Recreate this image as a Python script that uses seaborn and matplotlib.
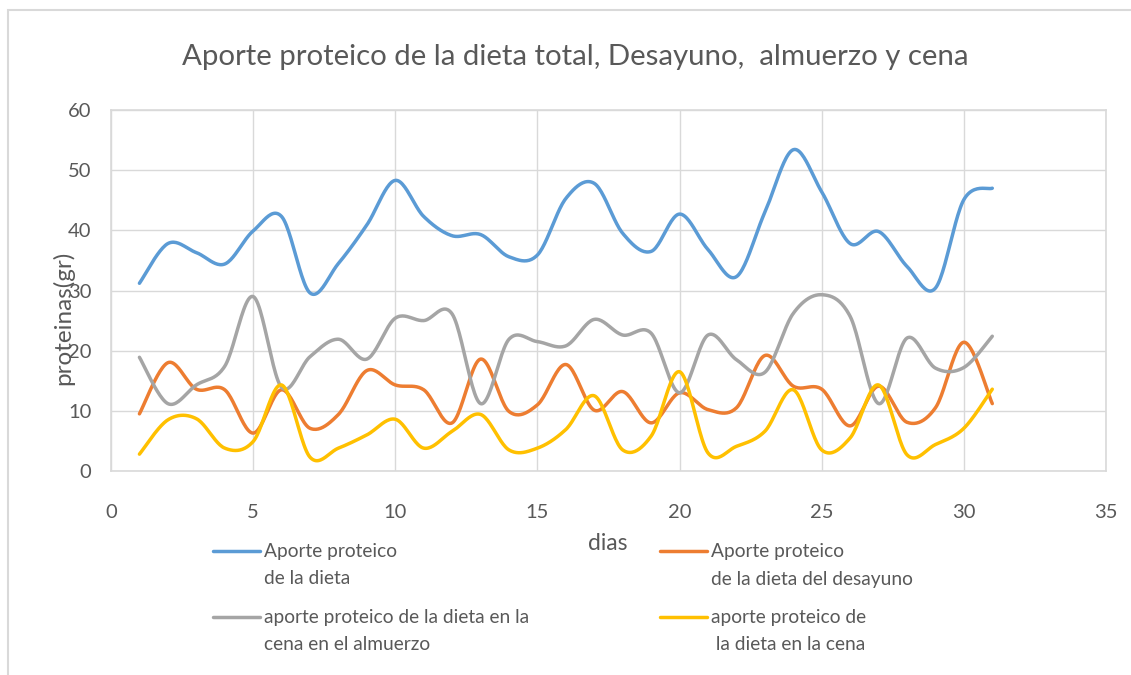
import numpy as np
import pandas as pd
import matplotlib
matplotlib.use("Agg")
import matplotlib.pyplot as plt
import seaborn as sns
from matplotlib.lines import Line2D
from matplotlib.patches import Rectangle

# ---------------- data ----------------
dias = list(range(1, 32))
aporte_total = [31.2, 37.8, 36.3, 34.4, 39.9, 42.3, 29.6, 34.5, 40.9, 48.3,
                42.3, 39.1, 39.3, 35.6, 35.9, 45.3, 47.8, 39.5, 36.5, 42.7,
                36.8, 32.3, 43.0, 53.4, 46.4, 37.8, 39.8, 34.0, 30.4, 45.1, 47.0]
aporte_desayuno = [9.5, 18.0, 13.6, 13.5, 6.3, 13.5, 7.1, 9.4, 16.7, 14.3,
                   13.5, 8.0, 18.6, 9.9, 11.0, 17.7, 10.1, 13.2, 8.0, 13.0,
                   10.2, 10.5, 19.2, 14.1, 13.6, 7.5, 14.1, 8.1, 10.5, 21.4, 11.2]
aporte_almuerzo = [18.9, 11.2, 14.3, 17.4, 29.0, 13.9, 19.0, 21.9, 18.6, 25.4,
                   25.0, 26.1, 11.2, 21.9, 21.5, 20.8, 25.2, 22.6, 22.9, 13.0,
                   22.6, 18.5, 16.4, 26.2, 29.3, 25.7, 11.2, 22.1, 17.1, 17.2, 22.4]
aporte_cena = [2.8, 8.5, 8.7, 3.8, 4.9, 14.3, 2.3, 3.8, 6.0, 8.6,
               3.8, 6.6, 9.4, 3.5, 3.8, 6.9, 12.5, 3.5, 5.8, 16.5,
               3.0, 4.1, 6.6, 13.5, 3.5, 5.5, 14.3, 2.7, 4.4, 7.1, 13.6]

series_labels = ["Aporte proteico\nde la dieta",
                 "Aporte proteico\nde la dieta del desayuno",
                 "aporte proteico de la dieta en la\ncena en el almuerzo",
                 "aporte proteico de\n la dieta en la cena"]
series_values = [aporte_total, aporte_desayuno, aporte_almuerzo, aporte_cena]
colors = ["#5B9BD5", "#ED7D31", "#A5A5A5", "#FFC000"]

title = "Aporte proteico de la dieta total, Desayuno,  almuerzo y cena"
xlabel = "dias"
ylabel = "proteinas(gr)"
xticks = [0, 5, 10, 15, 20, 25, 30, 35]
yticks = [0, 10, 20, 30, 40, 50, 60]


# Excel-like smoothed line (Catmull-Rom style Bezier through the data points)
def smooth(x, y, n=24):
    x = np.asarray(x, float)
    y = np.asarray(y, float)
    px = np.concatenate([[x[0]], x, [x[-1]]])
    py = np.concatenate([[y[0]], y, [y[-1]]])
    t = np.linspace(0, 1, n, endpoint=False)
    xs, ys = [], []
    for i in range(1, len(px) - 2):
        for arr, out in ((px, xs), (py, ys)):
            p0, p1, p2, p3 = arr[i - 1], arr[i], arr[i + 1], arr[i + 2]
            c1 = p1 + (p2 - p0) / 6.0
            c2 = p2 - (p3 - p1) / 6.0
            b = ((1 - t) ** 3) * p1 + 3 * ((1 - t) ** 2) * t * c1 + 3 * (1 - t) * t ** 2 * c2 + t ** 3 * p2
            out.extend(b.tolist())
    xs.append(x[-1])
    ys.append(y[-1])
    return np.array(xs), np.array(ys)


sns.set_theme(style="white")
plt.rcParams["font.family"] = ["Lato", "DejaVu Sans"]
TXT = "#595959"
GRID = "#D9D9D9"

W, H = 1131, 675
fig = plt.figure(figsize=(W / 100, H / 100), dpi=100)
fig.patch.set_facecolor("white")

def fx(px):
    return px / W

def fy(py):
    return 1 - py / H

ax = fig.add_axes([fx(111), fy(471), (1106 - 111) / W, (471 - 110) / H])

for vals, col, lab in zip(series_values, colors, series_labels):
    sx, sy = smooth(dias, vals)
    df = pd.DataFrame({"x": sx, "y": sy})
    sns.lineplot(data=df, x="x", y="y", color=col, linewidth=2.5, ax=ax,
                 estimator=None, sort=False, legend=False)

ax.set_xlim(0, 35)
ax.set_ylim(0, 60)
ax.set_xticks(xticks)
ax.set_yticks(yticks)
ax.grid(True, color=GRID, linewidth=1.0)
ax.set_axisbelow(True)
for sp in ax.spines.values():
    sp.set_color(GRID)
    sp.set_linewidth(1.2)
ax.tick_params(axis="both", length=0, labelsize=14.5, colors=TXT)
ax.tick_params(axis="x", pad=24)
ax.tick_params(axis="y", pad=14)
ax.set_xlabel("")
ax.set_ylabel("")

# axis titles
fig.text(fx(608), fy(543), xlabel, ha="center", va="center", fontsize=16.5, color=TXT)
fig.text(fx(63), fy(318), ylabel, ha="center", va="center", rotation=90,
         fontsize=17.5, color=TXT)

# chart title
fig.text(fx(575), fy(57), title, ha="center", va="center", fontsize=21.2,
         color=TXT, fontweight="normal")

# legend (two columns, two-line labels, handle aligned with first line)
leg_pos = [(213, 551), (660, 551), (213, 617), (660, 617)]
for (lx, ly), col, lab in zip(leg_pos, colors, series_labels):
    fig.add_artist(Line2D([fx(lx), fx(lx + 47)], [fy(ly), fy(ly)],
                          transform=fig.transFigure, color=col, linewidth=2.5))
    for k, line in enumerate(lab.split("\n")):
        fig.text(fx(lx + 51), fy(ly + 28 * k), line, ha="left", va="center",
                 fontsize=13.8, color=TXT)

# outer chart border (left/top visible)
fig.add_artist(Rectangle((fx(8), fy(H + 20)), fx(W + 40), (H + 10) / H,
                         transform=fig.transFigure, fill=False,
                         edgecolor=GRID, linewidth=1.5))

fig.savefig("out.png", dpi=100, facecolor="white")
